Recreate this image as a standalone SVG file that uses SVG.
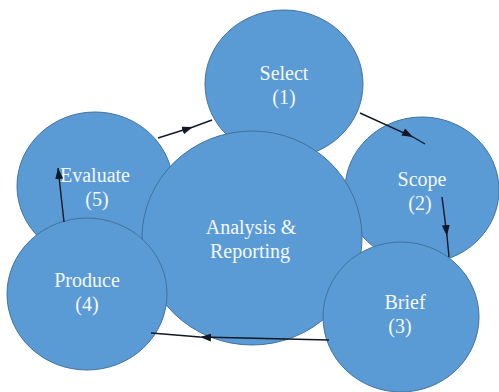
<svg xmlns="http://www.w3.org/2000/svg" width="499" height="392" viewBox="0 0 499 392">
  <style>
    .node ellipse { fill: #5B9BD5; stroke: #41719C; stroke-width: 1; }
    .node text { font-family: 'Liberation Serif', 'Times New Roman', 'DejaVu Serif', serif; font-size: 20px; fill: #f4f8fc; text-anchor: middle; }
    .conn { fill: none; stroke: #111827; stroke-width: 1.4; }
  </style>
  <defs>
    <marker id="arrow" markerUnits="userSpaceOnUse" markerWidth="12" markerHeight="9" refX="11" refY="4" orient="auto">
      <path d="M0,0 L11,4 L0,8 z" fill="#111827"/>
    </marker>
  </defs>

  <!-- cycle stages, drawn back to front -->
  <g id="evaluate" class="node">
    <ellipse cx="95" cy="186" rx="78" ry="74"/>
    <text x="95" y="182">Evaluate</text>
    <text x="97" y="206">(5)</text>
  </g>
  <g id="select" class="node">
    <ellipse cx="284" cy="84" rx="79" ry="74"/>
    <text x="284" y="80">Select</text>
    <text x="284" y="104">(1)</text>
  </g>
  <g id="scope" class="node">
    <ellipse cx="422" cy="190" rx="77" ry="73"/>
    <text x="422" y="186">Scope</text>
    <text x="420" y="210">(2)</text>
  </g>
  <g id="analysis" class="node">
    <ellipse cx="252" cy="238" rx="110" ry="107"/>
    <text x="251" y="234">Analysis &amp;</text>
    <text x="250" y="258">Reporting</text>
  </g>
  <g id="produce" class="node">
    <ellipse cx="87" cy="294" rx="80" ry="76"/>
    <text x="87" y="287">Produce</text>
    <text x="87" y="311">(4)</text>
  </g>
  <g id="brief" class="node">
    <ellipse cx="401" cy="317" rx="78" ry="75"/>
    <text x="405" y="309">Brief</text>
    <text x="400" y="333">(3)</text>
  </g>

  <!-- connectors between stages -->
  <g id="connectors">
    <path class="conn" d="M158,138 L193,127 L212,120" marker-mid="url(#arrow)"/>
    <path class="conn" d="M360,113 L413,137 L425,144" marker-mid="url(#arrow)"/>
    <path class="conn" d="M442,197 L447,236 L449,257" marker-mid="url(#arrow)"/>
    <path class="conn" d="M329,340 L200,337 L151,333" marker-mid="url(#arrow)"/>
    <path class="conn" d="M64,222 L58,168" marker-end="url(#arrow)"/>
  </g>
</svg>
